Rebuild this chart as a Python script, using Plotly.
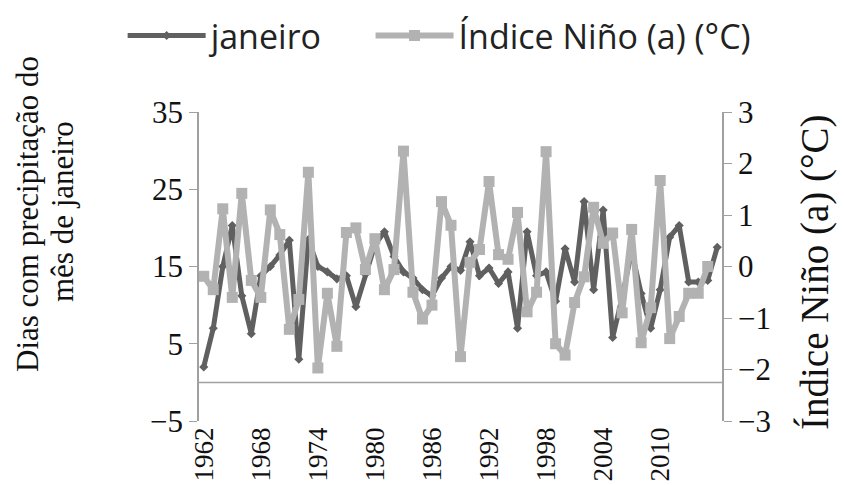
import plotly.graph_objects as go

years = list(range(1962, 2017))
janeiro = [2, 7, 15, 20.3, 11.2, 6.3, 13.8, 15, 16.5, 18.4,
           3, 18.5, 15, 14.3, 13.4, 13.8, 9.8, 14, 17.8, 19.5,
           16.3, 14.3, 13.5, 12, 11.2, 13.5, 15, 14.5, 18.2, 13.8,
           14.8, 12.8, 14.3, 7, 19.5, 13.8, 14.3, 10.5, 17.3, 13,
           23.4, 12, 22.3, 5.8, 11, 17, 11.5, 7, 12, 18.8,
           20.3, 13, 13, 13.2, 17.5]
nino_years = list(range(1962, 2016))
nino = [-0.19, -0.45, 1.12, -0.6, 1.42, -0.27, -0.6, 1.1, 0.62, -1.22,
        -0.64, 1.83, -1.97, -0.52, -1.55, 0.66, 0.75, -0.06, 0.54, -0.45,
        -0.06, 2.24, -0.5, -1.02, -0.75, 1.26, 0.8, -1.75, 0.08, 0.33,
        1.65, 0.23, 0.14, 1.05, -0.88, -0.5, 2.23, -1.5, -1.72, -0.7,
        -0.2, 1.15, 0.45, 0.65, -0.9, 0.72, -1.48, -0.8, 1.67, -1.4,
        -0.97, -0.52, -0.52, 0.0]
x_ticks = list(range(1962, 2011, 6))
left_ticks = [-5, 5, 15, 25, 35]
right_ticks = [-3, -2, -1, 0, 1, 2, 3]

DARK = "#606060"
LIGHT = "#b2b2b2"
AX = "#a0a0a0"
SERIF = "Liberation Serif"
LEG_FONT = dict(family="Open Sans", size=34, color="#222")

fig = go.Figure()
fig.add_trace(go.Scatter(
    x=years, y=janeiro, name="janeiro", mode="lines+markers",
    legend="legend",
    line=dict(color=DARK, width=5),
    marker=dict(symbol="diamond", size=7, color=DARK),
))
fig.add_trace(go.Scatter(
    x=nino_years, y=nino, name="Índice Niño (a) (°C)", mode="lines+markers",
    yaxis="y2", legend="legend2",
    line=dict(color=LIGHT, width=6),
    marker=dict(symbol="square", size=11, color=LIGHT),
))

fig.add_shape(type="line", xref="paper", yref="y", x0=0, x1=1, y0=0, y1=0,
              line=dict(color=AX, width=1.5), layer="below")

fig.update_layout(
    width=844, height=485,
    margin=dict(l=199, r=122, t=112, b=64, autoexpand=False),
    paper_bgcolor="white", plot_bgcolor="white",
    showlegend=True,
    legend=dict(orientation="h", x=-0.146, xanchor="left", y=1.34, yanchor="top",
                font=LEG_FONT, itemwidth=78, bgcolor="rgba(0,0,0,0)"),
    legend2=dict(orientation="h", x=0.328, xanchor="left", y=1.34, yanchor="top",
                 font=LEG_FONT, itemwidth=78, bgcolor="rgba(0,0,0,0)"),
    xaxis=dict(range=[1961.5, 2016.5], tickvals=x_ticks, tickangle=-90,
               showgrid=False, zeroline=False, showline=False, ticks="",
               ticklabelstandoff=0,
               tickfont=dict(family=SERIF, size=27, color="#111")),
    yaxis=dict(range=[-5, 35], tickvals=left_ticks, showgrid=False, zeroline=False,
               showline=True, linecolor=AX, linewidth=1.5, ticks="outside",
               ticklen=8, tickcolor=AX,
               tickfont=dict(family=SERIF, size=31, color="#111")),
    yaxis2=dict(range=[-3, 3], tickvals=right_ticks, overlaying="y", side="right",
                showgrid=False, zeroline=False, showline=True, linecolor=AX,
                linewidth=1.5, ticks="outside", ticklen=8, tickcolor=AX,
                tickfont=dict(family=SERIF, size=31, color="#111")),
    annotations=[
        dict(text="Dias com precipitação do", xref="paper", yref="paper",
             x=(27 - 199) / 523, y=(421 - 214) / 309, xanchor="center", yanchor="middle",
             textangle=-90, showarrow=False,
             font=dict(family=SERIF, size=31, color="#111")),
        dict(text="mês de janeiro", xref="paper", yref="paper",
             x=(62 - 199) / 523, y=(421 - 212) / 309, xanchor="center", yanchor="middle",
             textangle=-90, showarrow=False,
             font=dict(family=SERIF, size=31, color="#111")),
        dict(text="Índice Niño (a) (°C)", xref="paper", yref="paper",
             x=(815 - 199) / 523, y=(421 - 272) / 309, xanchor="center", yanchor="middle",
             textangle=-90, showarrow=False,
             font=dict(family=SERIF, size=39, color="#111")),
    ],
)

fig.write_html("out.html")
